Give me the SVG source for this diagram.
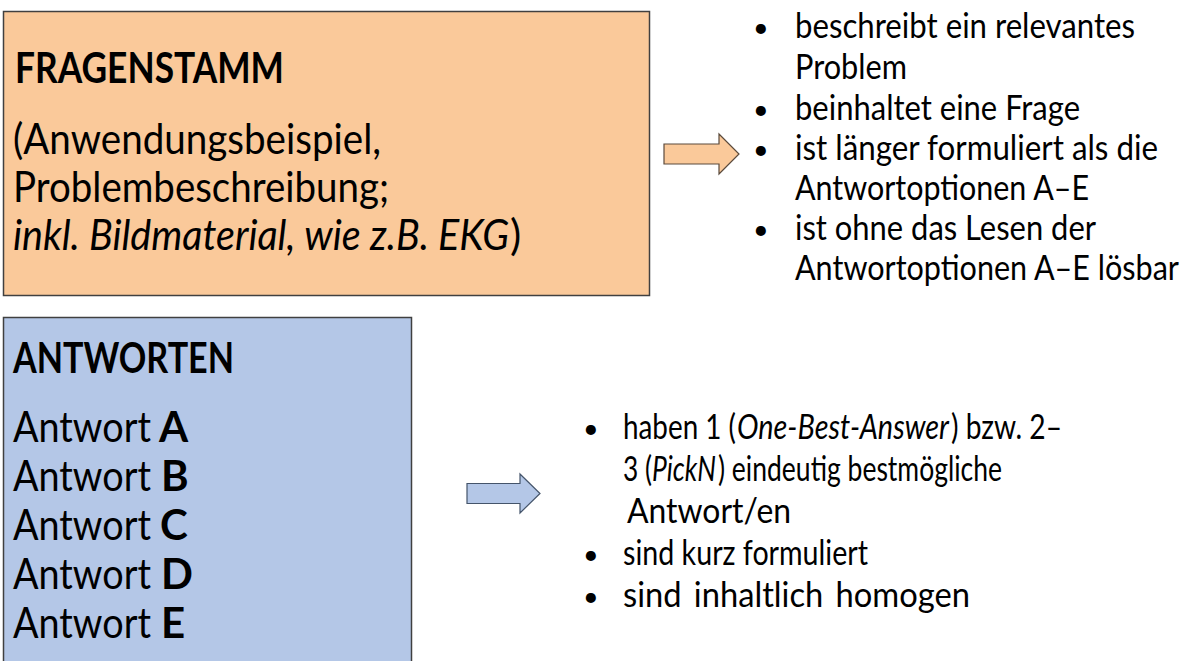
<svg xmlns="http://www.w3.org/2000/svg" width="1189" height="661" viewBox="0 0 1189 661">
<style>
.t{font-family:"Lato","Open Sans","Liberation Sans",sans-serif;fill:#000000}
.b{font-weight:bold}
.i{font-style:italic}
.big{font-size:42px}
.med{font-size:35px}
.sm{font-size:34px}
.dot{font-family:"Lato","Open Sans",sans-serif;font-size:27px;fill:#000000}
.box{stroke:#404040;stroke-width:1.5}
</style>
<rect width="1189" height="661" fill="#ffffff"/>
<g id="fragenstamm">
<rect class="box" x="3.5" y="11.5" width="646" height="284" fill="#FAC99A"/>
<text class="t big b" x="15" y="83" textLength="269" lengthAdjust="spacingAndGlyphs">FRAGENSTAMM</text>
<text class="t big" x="13" y="154" textLength="368" lengthAdjust="spacingAndGlyphs">(Anwendungsbeispiel,</text>
<text class="t big" x="13" y="202" textLength="376" lengthAdjust="spacingAndGlyphs">Problembeschreibung;</text>
<text class="t big i" x="13" y="250" textLength="496" lengthAdjust="spacingAndGlyphs">inkl. Bildmaterial, wie z.B. EKG</text>
<text class="t big" x="510" y="250">)</text>
</g>
<g id="fragenstamm-merkmale">
<text class="dot" x="753" y="37">•</text>
<text class="t med" x="795" y="38" textLength="340" lengthAdjust="spacingAndGlyphs">beschreibt ein relevantes</text>
<text class="t med" x="795" y="79" textLength="112" lengthAdjust="spacingAndGlyphs">Problem</text>
<text class="dot" x="753" y="119">•</text>
<text class="t med" x="795" y="120" textLength="285" lengthAdjust="spacingAndGlyphs">beinhaltet eine Frage</text>
<text class="dot" x="753" y="159">•</text>
<text class="t med" x="795" y="160" textLength="363" lengthAdjust="spacingAndGlyphs">ist länger formuliert als die</text>
<text class="t med" x="795" y="200" textLength="294" lengthAdjust="spacingAndGlyphs">Antwortoptionen A–E</text>
<text class="dot" x="753" y="239">•</text>
<text class="t med" x="795" y="240" textLength="301" lengthAdjust="spacingAndGlyphs">ist ohne das Lesen der</text>
<text class="t med" x="795" y="280" textLength="384" lengthAdjust="spacingAndGlyphs">Antwortoptionen A–E lösbar</text>
</g>
<g id="antworten">
<rect class="box" x="3.5" y="317.5" width="408" height="350" fill="#B4C7E7"/>
<text class="t big b" x="13" y="373" textLength="221" lengthAdjust="spacingAndGlyphs">ANTWORTEN</text>
<text class="t big" x="13" y="442" textLength="138" lengthAdjust="spacingAndGlyphs">Antwort</text>
<text class="t big b" x="159" y="442">A</text>
<text class="t big" x="13" y="491" textLength="138" lengthAdjust="spacingAndGlyphs">Antwort</text>
<text class="t big b" x="161" y="491">B</text>
<text class="t big" x="13" y="540" textLength="138" lengthAdjust="spacingAndGlyphs">Antwort</text>
<text class="t big b" x="160" y="540">C</text>
<text class="t big" x="13" y="589" textLength="138" lengthAdjust="spacingAndGlyphs">Antwort</text>
<text class="t big b" x="161" y="589">D</text>
<text class="t big" x="13" y="638" textLength="138" lengthAdjust="spacingAndGlyphs">Antwort</text>
<text class="t big b" x="161" y="638">E</text>
</g>
<g id="antworten-merkmale">
<text class="dot" x="583" y="438">•</text>
<text class="t sm" x="623" y="439" textLength="113" lengthAdjust="spacingAndGlyphs">haben 1 (</text>
<text class="t sm i" x="737" y="439" textLength="212" lengthAdjust="spacingAndGlyphs">One-Best-Answer</text>
<text class="t sm" x="951" y="439" textLength="111" lengthAdjust="spacingAndGlyphs">) bzw. 2–</text>
<text class="t sm" x="623" y="481" textLength="29" lengthAdjust="spacingAndGlyphs">3 (</text>
<text class="t sm i" x="652" y="481" textLength="64" lengthAdjust="spacingAndGlyphs">PickN</text>
<text class="t sm" x="718" y="481" textLength="284" lengthAdjust="spacingAndGlyphs">) eindeutig bestmögliche</text>
<text class="t sm" x="627" y="523" textLength="164" lengthAdjust="spacingAndGlyphs">Antwort/en</text>
<text class="dot" x="583" y="564">•</text>
<text class="t sm" x="623" y="565" textLength="245" lengthAdjust="spacingAndGlyphs">sind kurz formuliert</text>
<text class="dot" x="583" y="606">•</text>
<text class="t sm" x="623" y="607" textLength="347" lengthAdjust="spacingAndGlyphs" word-spacing="4">sind inhaltlich homogen</text>
</g>
<g id="connectors">
<polygon points="664,144 719,144 719,134 739,154 719,174 719,164 664,164" fill="#FAC99A" stroke="#5a4a3c" stroke-width="1.2"/>
<polygon points="467,483.5 520,483.5 520,474 540,493.5 520,513 520,503.5 467,503.5" fill="#B4C7E7" stroke="#44546A" stroke-width="1.2"/>
</g>
</svg>
